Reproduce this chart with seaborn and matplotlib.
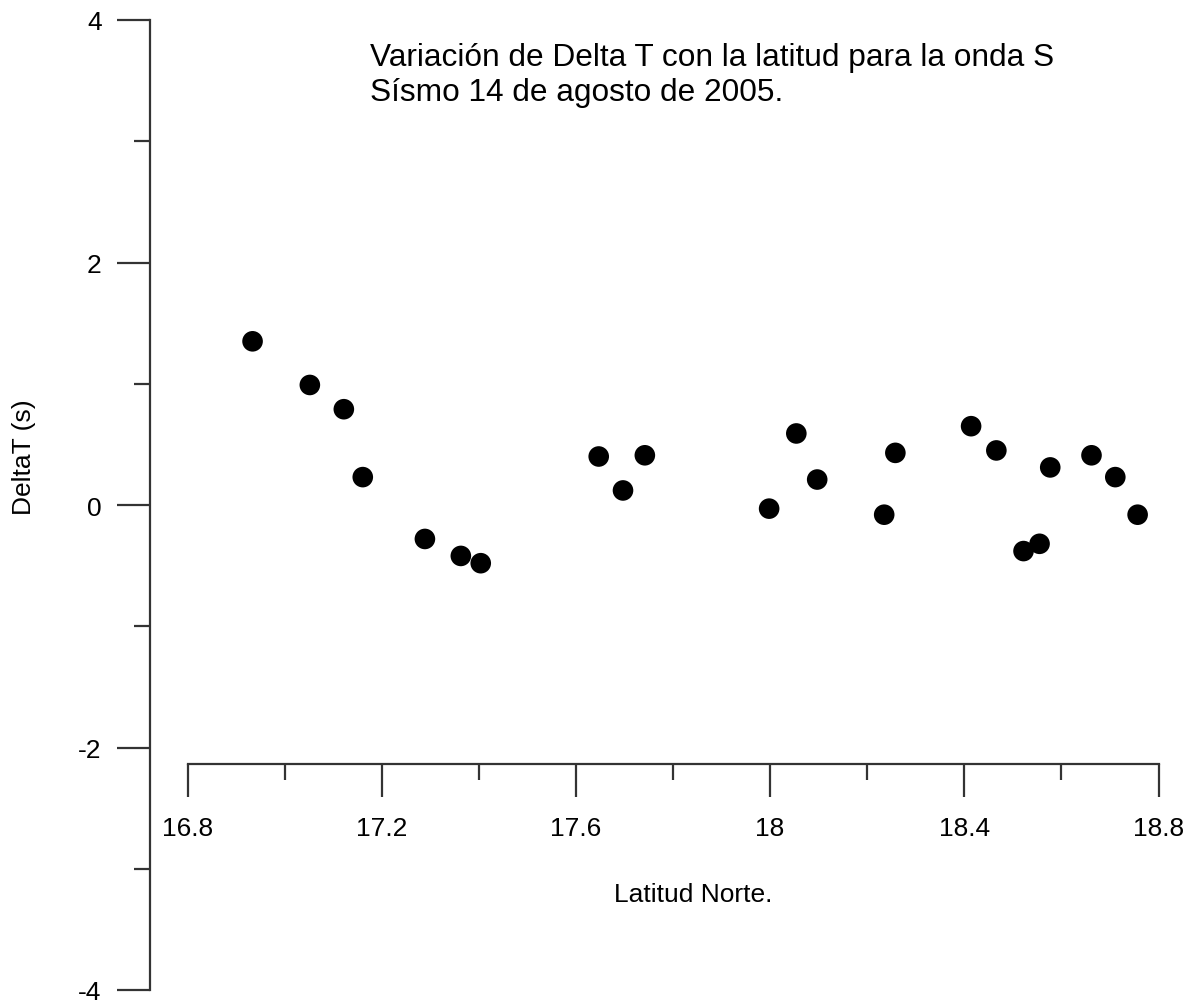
import matplotlib
matplotlib.use("Agg")
import matplotlib.pyplot as plt
import seaborn as sns
import numpy as np
import pandas as pd
from matplotlib.ticker import FixedLocator

# ---- data ----
latitud = [16.934, 17.052, 17.122, 17.161, 17.289, 17.363, 17.404,
           17.647, 17.697, 17.742, 17.998, 18.054, 18.097, 18.235,
           18.258, 18.414, 18.466, 18.522, 18.555, 18.577, 18.662,
           18.711, 18.757]
delta_t = [1.35, 0.99, 0.79, 0.23, -0.28, -0.42, -0.48,
           0.40, 0.12, 0.41, -0.03, 0.59, 0.21, -0.08,
           0.43, 0.65, 0.45, -0.38, -0.32, 0.31, 0.41,
           0.23, -0.08]
x_ticks = [16.8, 17.2, 17.6, 18.0, 18.4, 18.8]
x_tick_labels = ["16.8", "17.2", "17.6", "18", "18.4", "18.8"]
x_minor_ticks = [17.0, 17.4, 17.8, 18.2, 18.6]
y_ticks = [-4, -2, 0, 2, 4]
y_tick_labels = ["-4", "-2", "0", "2", "4"]
y_minor_ticks = [-3, -1, 1, 3]
title_lines = ["Variación de Delta T con la latitud para la onda S",
               "Sísmo 14 de agosto de 2005."]
xlabel = "Latitud Norte."
ylabel = "DeltaT (s)"

df = pd.DataFrame({"lat": latitud, "dt": delta_t})

sns.set_style("white")
plt.rcParams["font.family"] = ["Liberation Sans", "DejaVu Sans"]
plt.rcParams["text.color"] = "black"
plt.rcParams["axes.labelcolor"] = "black"

W, H = 1192, 1004
fig = plt.figure(figsize=(W / 100, H / 100), dpi=100)
ax = fig.add_axes([150 / W, (H - 991) / H, (1158.5 - 150) / W, (991 - 21) / H])

sns.scatterplot(data=df, x="lat", y="dt", ax=ax, s=220, color="black",
                edgecolor="none", linewidth=0, zorder=3)

x0 = 16.8 - (187.5 - 150) / 485.5
ax.set_xlim(x0, 18.8)
ax.set_ylim(-4, 4)

axc = "#333333"
for s in ["top", "right"]:
    ax.spines[s].set_visible(False)
for s in ["left", "bottom"]:
    ax.spines[s].set_color(axc)
    ax.spines[s].set_linewidth(1.6)
ax.spines["bottom"].set_position(("data", -2.14))
ax.spines["bottom"].set_bounds(16.8, 18.8)

ax.xaxis.set_major_locator(FixedLocator(x_ticks))
ax.set_xticklabels(x_tick_labels)
ax.xaxis.set_minor_locator(FixedLocator(x_minor_ticks))
ax.yaxis.set_major_locator(FixedLocator(y_ticks))
ax.set_yticklabels(y_tick_labels)
ax.yaxis.set_minor_locator(FixedLocator(y_minor_ticks))

ax.tick_params(axis="both", which="major", direction="out", length=23.8,
               width=1.6, color=axc, labelsize=19, labelcolor="black")
ax.tick_params(axis="both", which="minor", direction="out", length=11.5,
               width=1.6, color=axc)
ax.tick_params(axis="x", which="major", pad=13)
ax.tick_params(axis="y", which="major", pad=11)
ax.tick_params(bottom=True, left=True, which="both")

ax.set_xlabel("")
ax.set_ylabel("")
fig.text(693 / W, 1 - 902 / H, xlabel, fontsize=19, ha="center", va="baseline")
fig.text(24 / W, 1 - 457 / H, ylabel, fontsize=19, ha="center", va="center",
         rotation=90)

fig.text(370 / W, 1 - 66 / H, title_lines[0], fontsize=22.8, ha="left", va="baseline")
fig.text(370 / W, 1 - 101 / H, title_lines[1], fontsize=22.8, ha="left", va="baseline")

fig.savefig("out.png", dpi=100, facecolor="white")
